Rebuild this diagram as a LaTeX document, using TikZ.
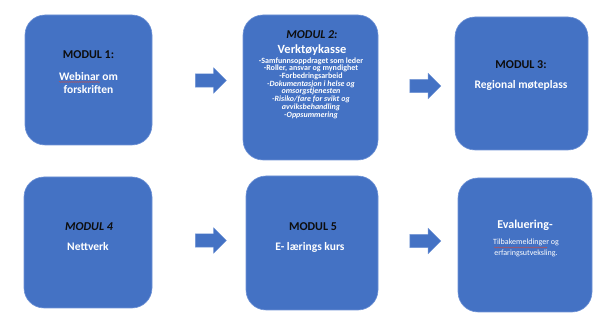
\documentclass[tikz,border=0pt]{standalone}
\usepackage{fontspec}
\setmainfont{Carlito}
\usetikzlibrary{shapes.arrows,decorations.pathmorphing}
\definecolor{boxblue}{HTML}{4472C4}
\definecolor{boxedge}{HTML}{6F93D6}
\definecolor{darktext}{HTML}{0D0D0D}
\definecolor{squiggle}{HTML}{C0504D}
\begin{document}
\begin{tikzpicture}[x=1pt,y=-1pt,
  modbox/.style={draw=boxedge, line width=0.6pt, fill=boxblue, rounded corners=20pt, inner sep=0pt},
  modtitle/.style={font=\bfseries\fontsize{12}{14}\selectfont, text=darktext, inner sep=0pt},
  modtitleit/.style={font=\bfseries\itshape\fontsize{12}{14}\selectfont, text=darktext, inner sep=0pt},
  modname/.style={font=\bfseries\fontsize{11.5}{13.5}\selectfont, text=white, inner sep=0pt, align=center},
  itemlist/.style={font=\bfseries\fontsize{8}{7.7}\selectfont, text=white, inner sep=0pt, align=center},
  smalltext/.style={font=\fontsize{8}{10}\selectfont, text=white, inner sep=0pt, align=center},
  bigarrow/.style={single arrow, fill=boxblue, draw=boxedge, line width=0.4pt, inner sep=6.5pt,
    minimum height=31pt, minimum width=25pt, single arrow head extend=6pt},
  spell/.style={draw=squiggle, line width=0.5pt, decorate, decoration={snake, amplitude=0.5pt, segment length=2pt}}
]
\useasboundingbox (0,0) rectangle (605,336);
\fill[white] (0,0) rectangle (605,336);

% boxes
\node[modbox, minimum width=127pt, minimum height=130pt] (m1) at (88.5,80) {};
\node[modbox, minimum width=135pt, minimum height=145pt] (m2) at (310.5,87.5) {};
\node[modbox, minimum width=133pt, minimum height=133pt] (m3) at (521.5,83.5) {};
\node[modbox, minimum width=128pt, minimum height=131pt] (m4) at (88,242.5) {};
\node[modbox, minimum width=132pt, minimum height=134pt] (m5) at (312,243) {};
\node[modbox, minimum width=134pt, minimum height=134pt] (m6) at (525,245) {};

% arrows
\node[bigarrow] (a1) at (207.5,80.5) {};
\node[bigarrow] (a2) at (422,86) {};
\node[bigarrow] (a3) at (207.5,240.5) {};
\node[bigarrow] (a4) at (422,241) {};

% box 1
\node[modtitle] (t1) at (88.5,55) {MODUL 1:};
\node[modname] (n1a) at (88.5,77) {Webinar om};
\node[modname] (n1b) at (88.5,90) {forskriften};
\coordinate (s1a) at (59,82);
\coordinate (s1b) at (100,82);
\draw[spell] (s1a) -- (s1b);

% box 2
\node[modtitleit] (t2) at (312,35) {MODUL 2:};
\node[modname, font=\bfseries\fontsize{12.5}{14}\selectfont] (n2) at (312,50) {Verktøykasse};
\node[itemlist] (l2) at (311,88) {-Samfunnsoppdraget som leder\\-Roller, ansvar og myndighet\\-Forbedringsarbeid\\\textit{-Dokumentasjon i helse og}\\\textit{omsorgstjenesten}\\\textit{-Risiko/fare for svikt og}\\\textit{avviksbehandling}\\\textit{-Oppsummering}};

% box 3
\node[modtitle] (t3) at (521,65) {MODUL 3:};
\node[modname] (n3) at (521,85) {Regional møteplass};

% box 4
\node[modtitleit] (t4) at (89,227) {MODUL 4};
\node[modname] (n4) at (88,247) {Nettverk};

% box 5
\node[modtitle] (t5) at (313,227) {MODUL 5};
\node[modname] (n5) at (310,247) {E- lærings kurs};

% box 6
\node[modname, font=\bfseries\fontsize{12}{14}\selectfont] (t6) at (525,225) {Evaluering-};
\node[smalltext] (n6a) at (526,242) {Tilbakemeldinger og};
\node[smalltext] (n6b) at (526,253) {erfaringsutveksling.};
\coordinate (s6a) at (494,247.5);
\coordinate (s6b) at (547,247.5);
\draw[spell] (s6a) -- (s6b);
\end{tikzpicture}
\end{document}
